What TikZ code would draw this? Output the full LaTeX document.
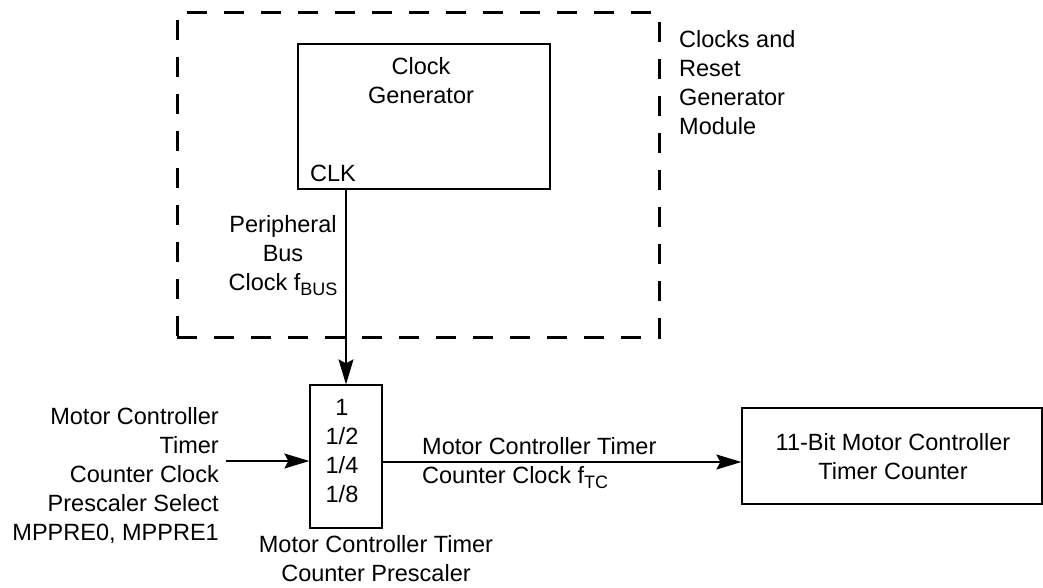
\documentclass[tikz,border=0pt]{standalone}
\usepackage{fontspec}
\setmainfont{Liberation Sans}
\usetikzlibrary{arrows.meta}
\newcommand{\sub}[1]{\raisebox{-5pt}{\fontsize{18}{18}\selectfont #1}}
\begin{document}
\begin{tikzpicture}[x=1pt,y=-1pt,
  txt/.style={font=\fontsize{23.5}{29}\selectfont, inner sep=0pt, align=center},
  box/.style={draw, line width=1.3pt, inner sep=0pt},
  modbox/.style={draw, line width=3pt, dash pattern=on 20pt off 17pt, inner sep=0pt},
  arr/.style={line width=1.3pt, -{Stealth[length=25pt,width=15pt,inset=4pt]}}]
\useasboundingbox (0,0) rectangle (1043,588);
% module (dashed)
\node[modbox, minimum width=482pt, minimum height=324pt] (mod) at (418,175) {};
\node[txt, align=left, anchor=west] (modl) at (679,82.5) {Clocks and\\Reset\\Generator\\Module};
% clock generator
\node[box, minimum width=252pt, minimum height=145pt] (cg) at (424,116.5) {};
\node[txt] (cgl) at (421,80.5) {Clock\\Generator};
\node[txt, anchor=west] (clk) at (310,173) {CLK};
% prescaler
\node[box, minimum width=72pt, minimum height=143pt] (pre) at (346,456.5) {};
\node[txt] (prel) at (342,451) {1\\1/2\\1/4\\1/8};
\node[txt] (preb) at (376,559) {Motor Controller Timer\\Counter Prescaler};
% timer counter
\node[box, minimum width=300pt, minimum height=96pt] (tc) at (892,456) {};
\node[txt] (tcl) at (893,457) {11-Bit Motor Controller\\Timer Counter};
% bus clock
\draw[arr] (cg.south -| pre.north) -- (pre.north);
\node[txt] (busl) at (283,256) {Peripheral\\Bus\\Clock f\sub{BUS}};
% input
\coordinate (inp) at (226,461);
\draw[arr] (inp) -- (inp -| pre.west);
\node[txt, align=right, anchor=east] (inl) at (219,475) {Motor Controller\\Timer\\Counter Clock\\Prescaler Select\\MPPRE0, MPPRE1};
% output
\coordinate (outp) at (382,462);
\draw[arr] (outp) -- (outp -| tc.west);
\node[txt, align=left, anchor=west] (outl) at (422,463) {Motor Controller Timer\\Counter Clock f\sub{TC}};
\end{tikzpicture}
\end{document}
